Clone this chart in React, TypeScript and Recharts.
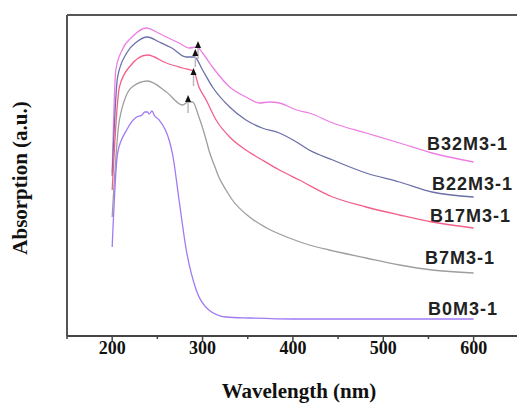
import React from 'react';
import { LineChart, Line, XAxis, YAxis, ReferenceLine, ReferenceDot } from 'recharts';

// UV-vis absorption spectra, absorbance in a.u. (curves offset for clarity)
const wlB32 = [200, 204, 211, 222, 238, 249, 260, 274, 285, 294, 300, 311, 330, 348, 363, 374, 385, 404, 418, 444, 481, 518, 554, 600];
const absB32 = [1.63, 2.66, 2.86, 2.99, 3.08, 3.04, 2.99, 2.93, 2.88, 2.89, 2.83, 2.69, 2.49, 2.39, 2.33, 2.34, 2.33, 2.26, 2.23, 2.13, 2.03, 1.93, 1.83, 1.74];

const wlB22 = [200, 206, 216, 227, 239, 252, 266, 282, 291, 300, 311, 330, 348, 366, 385, 404, 418, 444, 481, 518, 554, 600];
const absB22 = [1.6, 2.59, 2.83, 2.94, 2.99, 2.94, 2.88, 2.79, 2.79, 2.66, 2.49, 2.29, 2.16, 2.08, 2.03, 1.94, 1.86, 1.76, 1.63, 1.54, 1.44, 1.39];

const wlB17 = [200, 208, 219, 239, 260, 278, 290, 296, 304, 315, 330, 348, 366, 385, 407, 444, 481, 518, 554, 600];
const absB17 = [1.46, 2.49, 2.69, 2.81, 2.73, 2.68, 2.65, 2.49, 2.36, 2.16, 1.99, 1.86, 1.76, 1.66, 1.56, 1.39, 1.29, 1.21, 1.14, 1.08];

const wlB7 = [200, 208, 222, 239, 260, 278, 284, 289, 296, 304, 307, 315, 318, 326, 333, 352, 371, 396, 418, 440, 481, 518, 554, 600];
const absB7 = [1.19, 2.16, 2.49, 2.55, 2.44, 2.31, 2.34, 2.34, 2.19, 1.96, 1.86, 1.66, 1.59, 1.46, 1.36, 1.19, 1.08, 0.98, 0.91, 0.86, 0.78, 0.71, 0.66, 0.63];

const wlB0 = [200, 206, 216, 227, 233, 236, 239, 241, 244, 247, 252, 263, 267, 274, 282, 293, 307, 326, 352, 400, 500, 600];
const absB0 = [0.89, 1.83, 2.06, 2.19, 2.21, 2.24, 2.24, 2.22, 2.25, 2.2, 2.16, 1.96, 1.81, 1.36, 0.86, 0.46, 0.26, 0.19, 0.18, 0.17, 0.17, 0.17];

// shoulder markers (wavelength, absorbance)
const shoulderWl = [295, 292, 290, 284];
const shoulderAbs = [2.95, 2.87, 2.68, 2.41];

const xTicks = [150, 200, 250, 300, 350, 400, 450, 500, 550, 600];

const toPoints = (wl: number[], abs: number[]) => wl.map((w, i) => ({ wl: w, abs: abs[i] }));

const series = [
  { name: 'B32M3-1', data: toPoints(wlB32, absB32), color: '#ec7fe4', lx: 427, ly: 150 },
  { name: 'B22M3-1', data: toPoints(wlB22, absB22), color: '#6b70a8', lx: 432, ly: 190 },
  { name: 'B17M3-1', data: toPoints(wlB17, absB17), color: '#f2608a', lx: 430, ly: 222 },
  { name: 'B7M3-1', data: toPoints(wlB7, absB7), color: '#9e9e9e', lx: 425, ly: 264 },
  { name: 'B0M3-1', data: toPoints(wlB0, absB0), color: '#9f7af5', lx: 428, ly: 315 },
];

const serif = '"Liberation Serif", "Times New Roman", serif';
const sans = '"Liberation Sans", Arial, sans-serif';

function WaveTick({ x, y, payload }: any) {
  const major = payload.value % 100 === 0;
  return (
    <g>
      <line x1={x} x2={x} y1={y} y2={y + (major ? 5 : 3)} stroke="#444" strokeWidth={1.5} />
      {major && (
        <text x={x} y={y + 18} textAnchor="middle" fontFamily={serif} fontWeight="bold" fontSize={18} fill="#111">
          {payload.value}
        </text>
      )}
    </g>
  );
}

function ShoulderArrow({ cx, cy }: any) {
  return (
    <g>
      <line x1={cx} x2={cx} y1={cy + 6} y2={cy + 18} stroke="#bbb" strokeWidth={1.5} />
      <path d={`M${cx},${cy} L${cx + 3},${cy + 7} L${cx - 3},${cy + 7} Z`} fill="#111" />
    </g>
  );
}

export default function App() {
  return (
    <div style={{ width: 517, height: 405, background: '#fff' }}>
      <style>{'body{margin:0}'}</style>
      <LineChart width={517} height={405} margin={{ top: 15, right: 0, left: 67, bottom: 0 }}>
        <XAxis
          type="number"
          dataKey="wl"
          domain={[150, 648]}
          ticks={xTicks}
          allowDataOverflow
          height={69}
          tickLine={false}
          tickSize={0}
          tickMargin={0}
          axisLine={{ stroke: '#444', strokeWidth: 2 }}
          tick={<WaveTick />}
        />
        <YAxis type="number" dataKey="abs" domain={[0, 3.21]} width={0} tick={false} tickLine={false} axisLine={false} />
        {/* frame: top and left edges */}
        <ReferenceLine y={3.21} stroke="#555" strokeWidth={2} />
        <ReferenceLine x={150} stroke="#555" strokeWidth={2} />
        {series.map((s) => (
          <Line
            key={s.name}
            data={s.data}
            dataKey="abs"
            type="monotone"
            stroke={s.color}
            strokeWidth={1.3}
            dot={false}
            isAnimationActive={false}
          />
        ))}
        {shoulderWl.map((w, i) => (
          <ReferenceDot key={w} x={w} y={shoulderAbs[i]} r={0} shape={<ShoulderArrow />} />
        ))}
        {series.map((s) => (
          <text key={s.name} x={s.lx} y={s.ly} fontFamily={sans} fontWeight="bold" fontSize={18} letterSpacing={1} fill="#222">
            {s.name}
          </text>
        ))}
        <text x={299} y={398} textAnchor="middle" fontFamily={serif} fontWeight="bold" fontSize={21} fill="#111">
          Wavelength (nm)
        </text>
        <text
          x={27}
          y={178}
          transform="rotate(-90 27 178)"
          textAnchor="middle"
          fontFamily={serif}
          fontWeight="bold"
          fontSize={21}
          fill="#111"
        >
          Absorption (a.u.)
        </text>
      </LineChart>
    </div>
  );
}
